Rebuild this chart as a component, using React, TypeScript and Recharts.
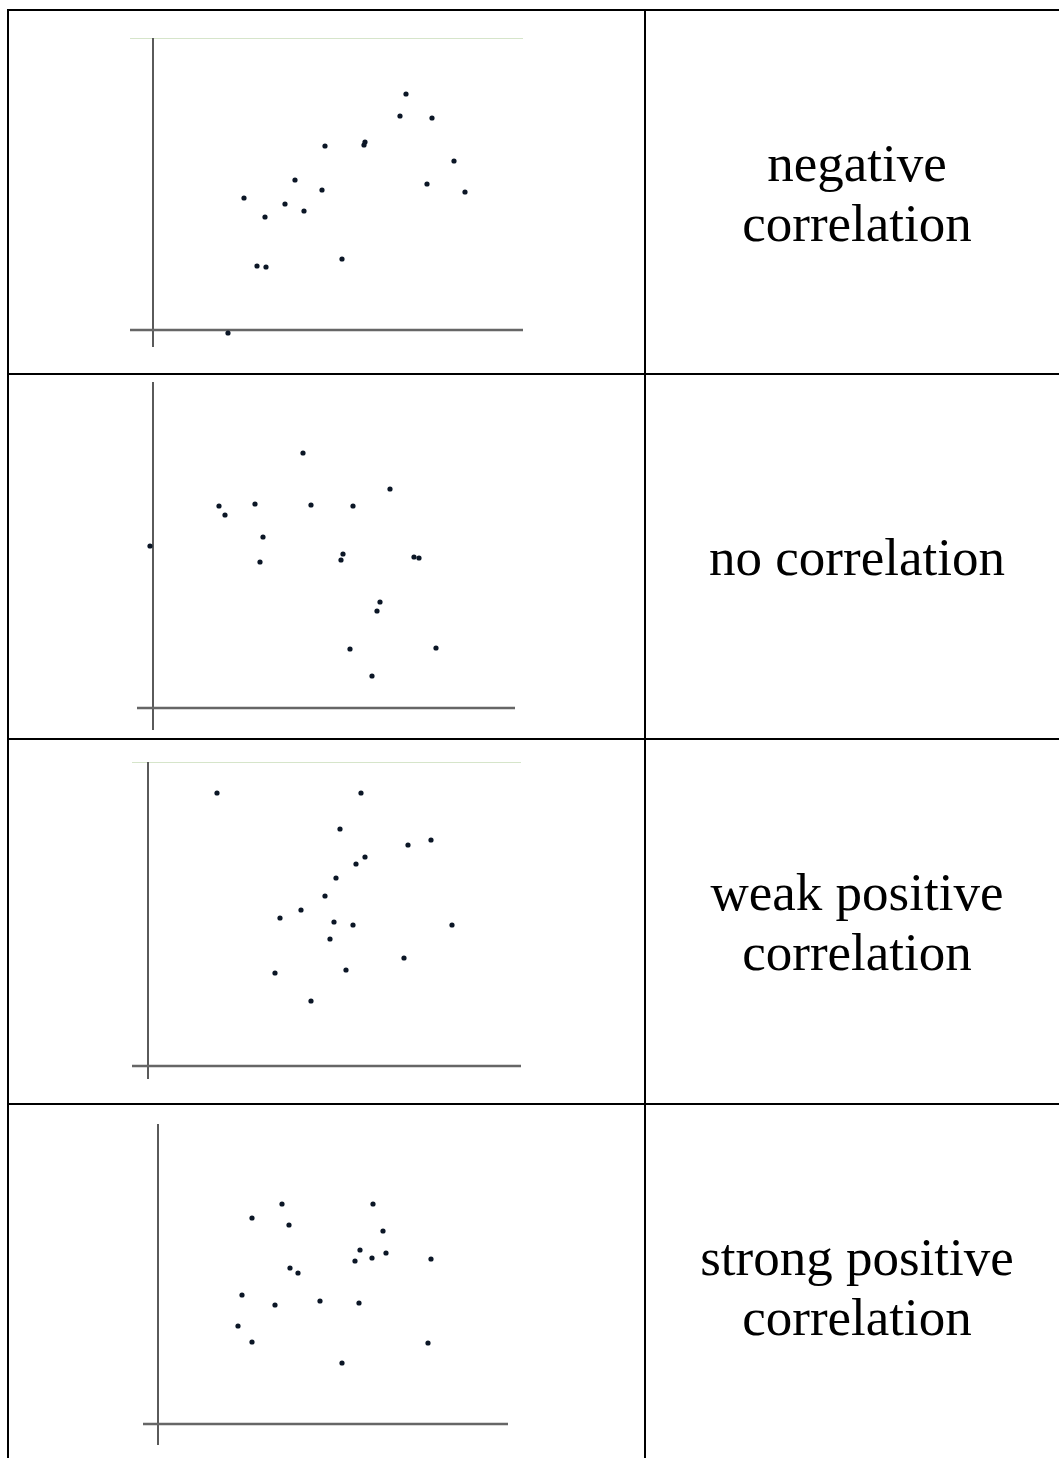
import { ReferenceLine, Scatter, ScatterChart, XAxis, YAxis } from 'recharts';

const negativeDots = [
  { x: 25.3, y: 23.6 }, { x: 24.7, y: 21.4 }, { x: 27.9, y: 21.2 }, { x: 17.2, y: 18.4 },
  { x: 21.1, y: 18.5 }, { x: 21.2, y: 18.8 }, { x: 30.1, y: 16.9 }, { x: 14.2, y: 15.0 },
  { x: 27.4, y: 14.6 }, { x: 16.9, y: 14.0 }, { x: 31.2, y: 13.8 }, { x: 9.1, y: 13.2 },
  { x: 13.2, y: 12.6 }, { x: 15.1, y: 11.9 }, { x: 11.2, y: 11.3 }, { x: 18.9, y: 7.1 },
  { x: 10.4, y: 6.4 }, { x: 11.3, y: 6.3 }, { x: 7.5, y: -0.3 },
];

const noneDots = [
  { x: 15.0, y: 25.5 }, { x: 23.7, y: 21.9 }, { x: 6.6, y: 20.2 }, { x: 7.2, y: 19.3 },
  { x: 10.2, y: 20.4 }, { x: 15.8, y: 20.3 }, { x: 20.0, y: 20.2 }, { x: 11.0, y: 17.1 },
  { x: -0.3, y: 16.2 }, { x: 10.7, y: 14.6 }, { x: 19.0, y: 15.4 }, { x: 18.8, y: 14.8 },
  { x: 26.1, y: 15.1 }, { x: 26.6, y: 15.0 }, { x: 22.7, y: 10.6 }, { x: 22.4, y: 9.7 },
  { x: 19.7, y: 5.9 }, { x: 28.3, y: 6.0 }, { x: 21.9, y: 3.2 },
];

const weakDots = [
  { x: 6.9, y: 27.3 }, { x: 21.3, y: 27.3 }, { x: 19.2, y: 23.7 }, { x: 26.0, y: 22.1 },
  { x: 28.3, y: 22.6 }, { x: 21.7, y: 20.9 }, { x: 20.8, y: 20.2 }, { x: 18.8, y: 18.8 },
  { x: 17.7, y: 17.0 }, { x: 15.3, y: 15.6 }, { x: 13.2, y: 14.8 }, { x: 18.6, y: 14.4 },
  { x: 20.5, y: 14.1 }, { x: 30.4, y: 14.1 }, { x: 18.2, y: 12.7 }, { x: 25.6, y: 10.8 },
  { x: 12.7, y: 9.3 }, { x: 19.8, y: 9.6 }, { x: 16.3, y: 6.5 },
];

const strongDots = [
  { x: 12.4, y: 22.0 }, { x: 21.5, y: 22.0 }, { x: 9.4, y: 20.6 }, { x: 13.1, y: 19.9 },
  { x: 22.5, y: 19.3 }, { x: 20.2, y: 17.4 }, { x: 22.8, y: 17.1 }, { x: 21.4, y: 16.6 },
  { x: 19.7, y: 16.3 }, { x: 27.3, y: 16.5 }, { x: 13.2, y: 15.6 }, { x: 14.0, y: 15.1 },
  { x: 8.4, y: 12.9 }, { x: 11.7, y: 11.9 }, { x: 16.2, y: 12.3 }, { x: 20.1, y: 12.1 },
  { x: 8.0, y: 9.8 }, { x: 9.4, y: 8.2 }, { x: 27.0, y: 8.1 }, { x: 18.4, y: 6.1 },
];

const labels = [
  ['negative', 'correlation'],
  ['no correlation'],
  ['weak positive', 'correlation'],
  ['strong positive', 'correlation'],
];

const panels = [
  { dots: negativeDots, left: 130, top: 38, width: 393, height: 309, xDomain: [-2.3, 37], yDomain: [-1.7, 29.2], topLine: true },
  { dots: noneDots, left: 137, top: 382, width: 378, height: 348, xDomain: [-1.6, 36.2], yDomain: [-2.2, 32.6], topLine: false },
  { dots: weakDots, left: 132, top: 762, width: 389, height: 317, xDomain: [-1.6, 37.3], yDomain: [-1.3, 30.4], topLine: true },
  { dots: strongDots, left: 143, top: 1124, width: 365, height: 321, xDomain: [-1.5, 35], yDomain: [-2.1, 30], topLine: false },
];

const rowTops = [9, 373, 738, 1103];
const rowHeight = 365;

const Dot = (props: any) => <circle cx={props.cx} cy={props.cy} r={2.6} fill="#0b1626" />;

function Panel({ p }: { p: (typeof panels)[number] }) {
  return (
    <div style={{ position: 'absolute', left: p.left, top: p.top }}>
      <ScatterChart width={p.width} height={p.height} margin={{ top: 0, right: 0, bottom: 0, left: 0 }}>
        <XAxis type="number" dataKey="x" domain={p.xDomain} allowDataOverflow hide />
        <YAxis type="number" dataKey="y" domain={p.yDomain} allowDataOverflow hide />
        {p.topLine && <ReferenceLine y={p.yDomain[1] - 0.05} stroke="#d6e5ca" strokeWidth={1.2} />}
        <ReferenceLine x={0} stroke="#5a5a5a" strokeWidth={2} />
        <ReferenceLine y={0} stroke="#666" strokeWidth={2.5} />
        <Scatter data={p.dots} shape={Dot} isAnimationActive={false} />
      </ScatterChart>
    </div>
  );
}

export default function App() {
  return (
    <div style={{ position: 'relative', width: 1059, height: 1458, overflow: 'hidden', background: '#fff' }}>
      <style>{'body{margin:0}'}</style>
      <div style={{ position: 'absolute', left: 7, top: 9, width: 1100, height: 2, background: '#000' }} />
      <div style={{ position: 'absolute', left: 7, top: 9, width: 2, height: 1500, background: '#000' }} />
      <div style={{ position: 'absolute', left: 644, top: 9, width: 2, height: 1500, background: '#000' }} />
      {rowTops.slice(1).map((t) => (
        <div key={t} style={{ position: 'absolute', left: 7, top: t, width: 1100, height: 2, background: '#000' }} />
      ))}
      {panels.map((p, i) => (
        <Panel key={i} p={p} />
      ))}
      {labels.map((lines, i) => (
        <div
          key={i}
          style={{
            position: 'absolute',
            left: 646,
            width: 422,
            top: rowTops[i] + 2,
            height: rowHeight - 2,
            display: 'flex',
            flexDirection: 'column',
            justifyContent: 'center',
            alignItems: 'center',
            fontFamily: '"Liberation Serif", "Times New Roman", serif',
            fontSize: 53,
            lineHeight: '60px',
            color: '#000',
          }}
        >
          {lines.map((l) => (
            <div key={l}>{l}</div>
          ))}
        </div>
      ))}
    </div>
  );
}
